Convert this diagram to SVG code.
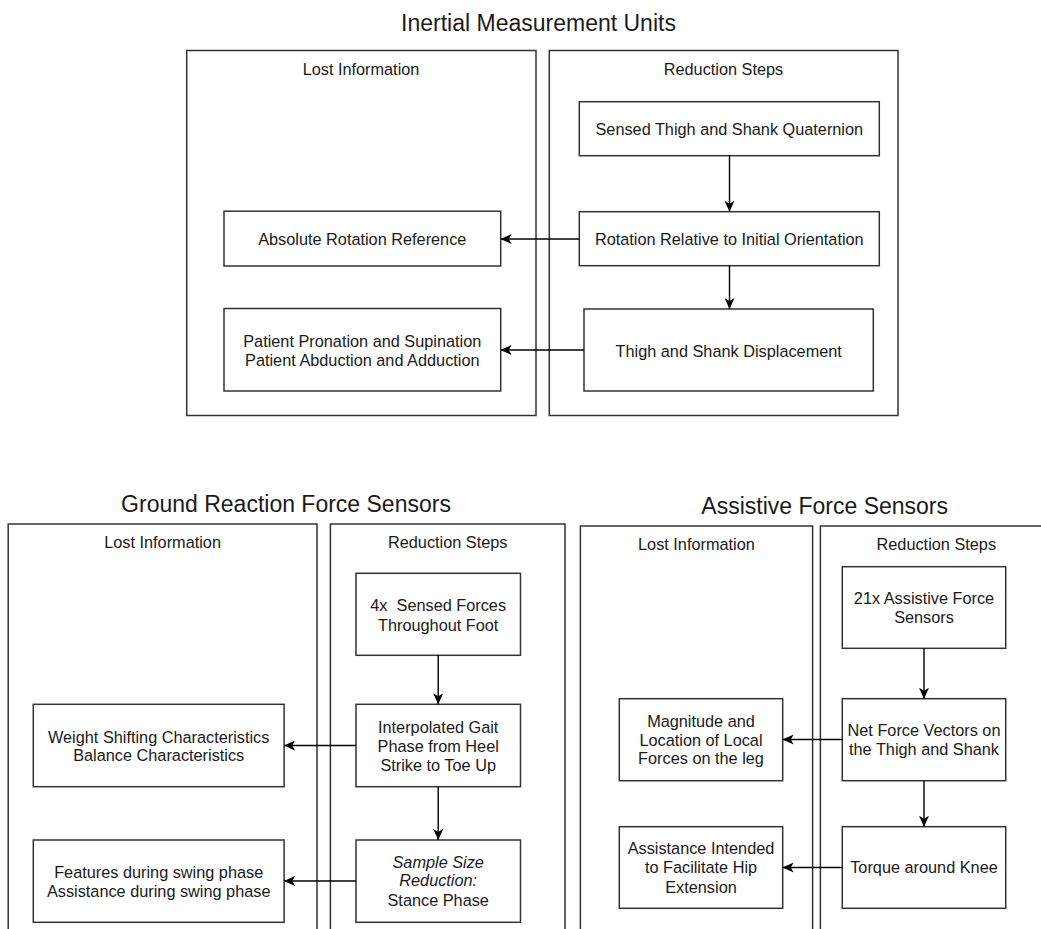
<svg xmlns="http://www.w3.org/2000/svg" width="1041" height="929" viewBox="0 0 1041 929">
  <defs>
    <marker id="arrow" viewBox="0 0 11 10" refX="11" refY="5" markerWidth="11" markerHeight="10" markerUnits="userSpaceOnUse" orient="auto">
      <path d="M0,0 L11,5 L0,10 L3,5 z" fill="#000"/>
    </marker>
  </defs>
  <style>
    text { font-family: "Liberation Sans", Arial, sans-serif; fill: #1a1a1a; text-anchor: middle; }
    .title { font-size: 23px; }
    .lbl { font-size: 16.3px; }
    .it { font-style: italic; }
    .pre { white-space: pre; }
    .lane { fill: #fff; stroke: #333; stroke-width: 1.5; }
    .box { fill: #fff; stroke: #333; stroke-width: 1.5; }
    .edge { fill: none; stroke: #000; stroke-width: 1.4; marker-end: url(#arrow); }
  </style>
  <rect width="1041" height="929" fill="#fff"/>

  <!-- ===== Inertial Measurement Units ===== -->
  <g id="imu">
    <text class="title" x="538.5" y="31">Inertial Measurement Units</text>
    <g id="imu-lost">
      <rect class="lane" x="186.7" y="50.5" width="349.3" height="365"/>
      <text class="lbl" x="361" y="75">Lost Information</text>
    </g>
    <g id="imu-steps">
      <rect class="lane" x="549.3" y="50.5" width="348.7" height="365"/>
      <text class="lbl" x="723.5" y="75">Reduction Steps</text>
    </g>
    <g id="imu-quaternion">
      <rect class="box" x="579.3" y="101.7" width="300" height="54"/>
      <text class="lbl" x="729.3" y="135">Sensed Thigh and Shank Quaternion</text>
    </g>
    <g id="imu-rotation">
      <rect class="box" x="579.3" y="211.7" width="300" height="54"/>
      <text class="lbl" x="729.3" y="245">Rotation Relative to Initial Orientation</text>
    </g>
    <g id="imu-displacement">
      <rect class="box" x="584" y="309" width="289.3" height="82"/>
      <text class="lbl" x="728.7" y="356.5">Thigh and Shank Displacement</text>
    </g>
    <g id="imu-absolute">
      <rect class="box" x="224" y="211.2" width="276.7" height="54.8"/>
      <text class="lbl" x="362.3" y="244.5">Absolute Rotation Reference</text>
    </g>
    <g id="imu-pronation">
      <rect class="box" x="224" y="308.5" width="276.7" height="82.5"/>
      <text class="lbl" x="362.3" y="346.5">Patient Pronation and Supination</text>
      <text class="lbl" x="362.3" y="365.7">Patient Abduction and Adduction</text>
    </g>
  </g>

  <!-- ===== Ground Reaction Force Sensors ===== -->
  <g id="grf">
    <text class="title" x="286" y="511.5">Ground Reaction Force Sensors</text>
    <g id="grf-lost">
      <rect class="lane" x="8.2" y="524" width="308.8" height="420"/>
      <text class="lbl" x="162.6" y="548.3">Lost Information</text>
    </g>
    <g id="grf-steps">
      <rect class="lane" x="330.4" y="524" width="234.6" height="420"/>
      <text class="lbl" x="447.7" y="548.3">Reduction Steps</text>
    </g>
    <g id="grf-sensed">
      <rect class="box" x="356" y="573.3" width="164.5" height="82"/>
      <text class="lbl pre" x="438.2" y="611">4x  Sensed Forces</text>
      <text class="lbl" x="438.2" y="630.5">Throughout Foot</text>
    </g>
    <g id="grf-gait">
      <rect class="box" x="356" y="704.3" width="164.5" height="82.4"/>
      <text class="lbl" x="438.2" y="733.3">Interpolated Gait</text>
      <text class="lbl" x="438.2" y="752">Phase from Heel</text>
      <text class="lbl" x="438.2" y="770.8">Strike to Toe Up</text>
    </g>
    <g id="grf-sample">
      <rect class="box" x="356" y="840" width="164.5" height="82.3"/>
      <text class="lbl it" x="438.2" y="867.5">Sample Size</text>
      <text class="lbl it" x="438.2" y="886.3">Reduction:</text>
      <text class="lbl" x="438.2" y="906">Stance Phase</text>
    </g>
    <g id="grf-weight">
      <rect class="box" x="33.3" y="704.3" width="250.8" height="82.4"/>
      <text class="lbl" x="158.7" y="742.5">Weight Shifting Characteristics</text>
      <text class="lbl" x="158.7" y="761.3">Balance Characteristics</text>
    </g>
    <g id="grf-swing">
      <rect class="box" x="33.3" y="840" width="250.8" height="82.3"/>
      <text class="lbl" x="158.7" y="877.7">Features during swing phase</text>
      <text class="lbl" x="158.7" y="897">Assistance during swing phase</text>
    </g>
  </g>

  <!-- ===== Assistive Force Sensors ===== -->
  <g id="afs">
    <text class="title" x="824.7" y="513.5">Assistive Force Sensors</text>
    <g id="afs-lost">
      <rect class="lane" x="580.4" y="526" width="232.2" height="420"/>
      <text class="lbl" x="696.4" y="550">Lost Information</text>
    </g>
    <g id="afs-steps">
      <rect class="lane" x="820.4" y="526" width="232" height="420"/>
      <text class="lbl" x="936.3" y="550">Reduction Steps</text>
    </g>
    <g id="afs-sensors">
      <rect class="box" x="842.3" y="566.7" width="163.4" height="81.6"/>
      <text class="lbl" x="924" y="604">21x Assistive Force</text>
      <text class="lbl" x="924" y="622.7">Sensors</text>
    </g>
    <g id="afs-vectors">
      <rect class="box" x="842.3" y="698.7" width="163.4" height="82"/>
      <text class="lbl" x="924" y="736">Net Force Vectors on</text>
      <text class="lbl" x="924" y="755">the Thigh and Shank</text>
    </g>
    <g id="afs-torque">
      <rect class="box" x="842.3" y="826.7" width="163.4" height="81.6"/>
      <text class="lbl" x="924" y="873.3">Torque around Knee</text>
    </g>
    <g id="afs-magnitude">
      <rect class="box" x="619.3" y="698.7" width="163.4" height="82"/>
      <text class="lbl" x="701" y="726.7">Magnitude and</text>
      <text class="lbl" x="701" y="745.7">Location of Local</text>
      <text class="lbl" x="701" y="764.3">Forces on the leg</text>
    </g>
    <g id="afs-hip">
      <rect class="box" x="619.3" y="826.7" width="163.4" height="81.6"/>
      <text class="lbl" x="701" y="854">Assistance Intended</text>
      <text class="lbl" x="701" y="873.3">to Facilitate Hip</text>
      <text class="lbl" x="701" y="892.7">Extension</text>
    </g>
  </g>

  <!-- connectors -->
  <g id="connectors">
    <path class="edge" d="M729.5,155.7 L729.5,211.7"/>
    <path class="edge" d="M729.5,265.7 L729.5,309"/>
    <path class="edge" d="M579.3,239 L500.7,239"/>
    <path class="edge" d="M584,350 L500.7,350"/>

    <path class="edge" d="M438.2,655.3 L438.2,704.3"/>
    <path class="edge" d="M438.2,786.7 L438.2,840"/>
    <path class="edge" d="M356,745.5 L284.1,745.5"/>
    <path class="edge" d="M356,881 L284.1,881"/>

    <path class="edge" d="M924,648.3 L924,698.7"/>
    <path class="edge" d="M924,780.7 L924,826.7"/>
    <path class="edge" d="M842.3,739.5 L782.7,739.5"/>
    <path class="edge" d="M842.3,867.5 L782.7,867.5"/>
  </g>
</svg>
